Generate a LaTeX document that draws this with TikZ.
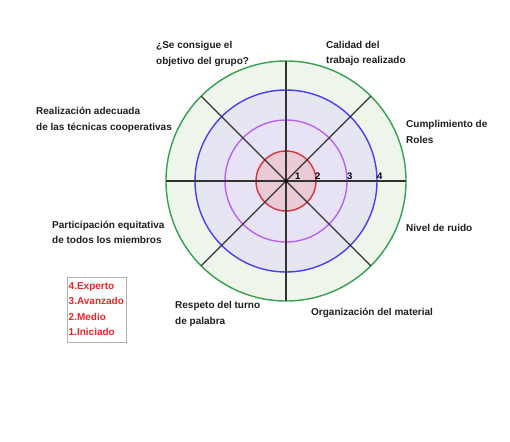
\documentclass[tikz,border=0pt]{standalone}
\usepackage{fontspec}
\setmainfont{Liberation Sans}
\begin{document}
\definecolor{ringgreen}{HTML}{35A04E}
\definecolor{ringblue}{HTML}{4B3DF2}
\definecolor{ringviolet}{HTML}{B763F2}
\definecolor{ringred}{HTML}{D8323F}
\definecolor{fillgreen}{HTML}{EEF6EC}
\definecolor{fillblue}{HTML}{E6E6F3}
\definecolor{fillviolet}{HTML}{E8E3F4}
\definecolor{fillred}{HTML}{E9CAD5}
\definecolor{spoke}{HTML}{333333}
\definecolor{levelred}{HTML}{E8262A}
\begin{tikzpicture}[x=1pt,y=-1pt,
  % multi-line labels are anchored at the baseline of their last line
  lbl/.style={font=\fontsize{10}{15.5}\selectfont\bfseries, align=left, anchor=base west, inner sep=0pt, text=black!88},
  num/.style={font=\fontsize{9.5}{11}\selectfont\bfseries, inner sep=0pt, anchor=base west},
  ring/.style={line width=1.4pt},
  spokeline/.style={draw=spoke, line width=1.2pt}]
\useasboundingbox (0,0) rectangle (510,441);
\fill[white] (0,0) rectangle (510,441);

% rating rings
\coordinate (c) at (286,181);
\fill[fillgreen] (c) circle (120);
\fill[fillblue] (c) circle (91);
\fill[fillviolet] (c) circle (61);
\fill[fillred] (c) circle (30);
\draw[ring, ringgreen] (c) circle (120);
\draw[ring, ringblue] (c) circle (91);
\draw[ring, ringviolet] (c) circle (61);
\draw[ring, ringred] (c) circle (30);

% eight criteria spokes
\foreach \a in {0,45,...,315}
  \draw[spokeline] (c) -- ++(\a:120);
\fill[black] (c) circle (1.8);

% level marks
\node[num] (n1) at (295,179.5) {1};
\node[num] (n2) at (315,179.5) {2};
\node[num] (n3) at (347,179.5) {3};
\node[num] (n4) at (377,179.5) {4};

% criteria
\node[lbl] (obj) at (156,64.5) {¿Se consigue el\\objetivo del grupo?};
\node[lbl] (cal) at (326,64) {Calidad del\\trabajo realizado};
\node[lbl] (rol) at (406,143) {Cumplimiento de\\Roles};
\node[lbl] (rui) at (406,231) {Nivel de ruido};
\node[lbl] (mat) at (311,315) {Organización del material};
\node[lbl] (res) at (175,324) {Respeto del turno\\de palabra};
\node[lbl] (par) at (52,243.5) {Participación equitativa\\de todos los miembros};
\node[lbl] (tec) at (36,130) {Realización adecuada\\de las técnicas cooperativas};

% level legend
\node[draw=black!30, line width=0.8pt, minimum width=59.5, minimum height=65.5, anchor=north west, inner sep=0pt] (legend) at (66.5,276.5) {};
\node[lbl, text=levelred] (lev) at (68.5,335.5) {4.Experto\\3.Avanzado\\2.Medio\\1.Iniciado};
\end{tikzpicture}
\end{document}
